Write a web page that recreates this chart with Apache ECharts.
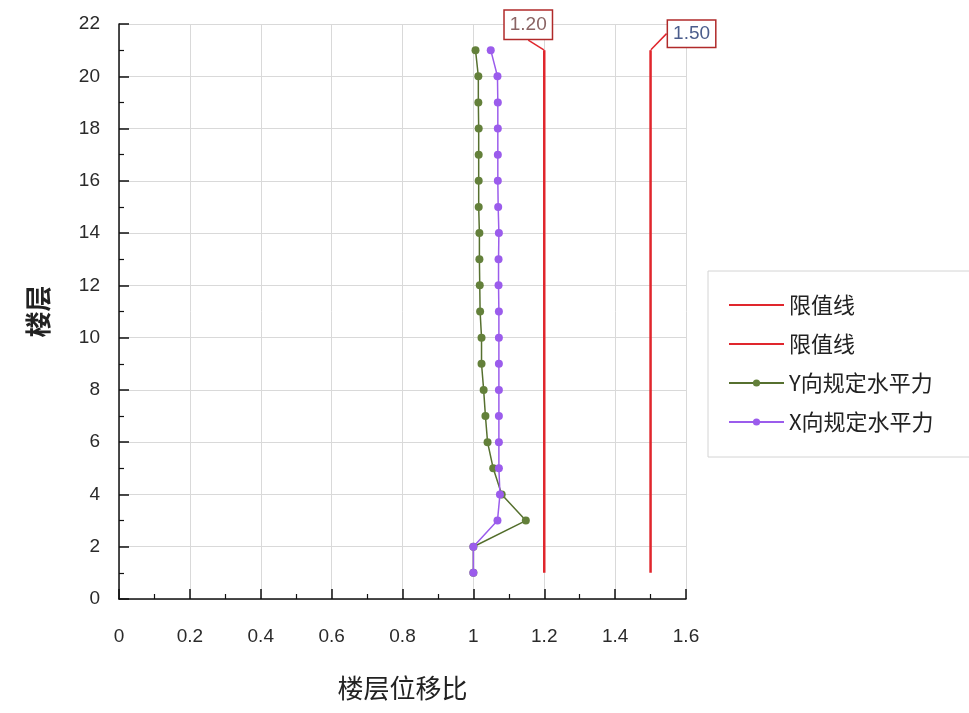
<!DOCTYPE html>
<html>
<head>
<meta charset="utf-8">
<script src="https://cdn.jsdelivr.net/npm/echarts@6/dist/echarts.min.js"></script>
<style>
html,body{margin:0;padding:0;background:#fff;}
#chart{width:969px;height:713px;}
</style>
</head>
<body>
<div id="chart"></div>
<script>
// ---- data ----
var floors = [1,2,3,4,5,6,7,8,9,10,11,12,13,14,15,16,17,18,19,20,21];
var yDirRatio = [1.00,1.00,1.148,1.080,1.056,1.040,1.034,1.029,1.023,1.023,1.019,1.018,1.017,1.017,1.015,1.015,1.015,1.015,1.014,1.014,1.006];
var xDirRatio = [1.00,1.00,1.068,1.075,1.072,1.072,1.072,1.072,1.072,1.072,1.072,1.071,1.071,1.072,1.070,1.069,1.069,1.069,1.069,1.068,1.049];
var limitFloors = [1, 21];
var limitA = 1.20;
var limitB = 1.50;
var seriesNames = ['限值线A', '限值线B', 'Y向规定水平力', 'X向规定水平力'];
var limitLabel = '限值线';
var xAxisName = '楼层位移比';
var yAxisName = '楼层';

function pairs(xs, ys){ return ys.map(function(y,i){ return [xs[i], y]; }); }
function limitData(v, labelOpt){
  return limitFloors.map(function(f, i){
    var d = {value:[v, f]};
    if (i === limitFloors.length - 1) {
      d.symbol = 'circle';
      d.symbolSize = 1;
      d.label = labelOpt;
    }
    return d;
  });
}

var numFont = 'Liberation Sans, Arial, sans-serif';
var cjkFont = 'Noto Sans CJK SC, sans-serif';

var chart = echarts.init(document.getElementById('chart'), null, {renderer:'canvas'});
chart.setOption({
  animation:false,
  backgroundColor:'#fff',
  grid:{left:119, right:283, top:24, bottom:114},
  legend:{
    orient:'vertical',
    left:708, top:271,
    padding:[23,40,24,20],
    itemGap:17,
    itemWidth:55, itemHeight:9,
    borderColor:'#d4d4d4', borderWidth:1,
    backgroundColor:'#fff',
    data:[
      {name:seriesNames[0], itemStyle:{opacity:0}},
      {name:seriesNames[1], itemStyle:{opacity:0}},
      {name:seriesNames[2]},
      {name:seriesNames[3]}
    ],
    formatter:function(n){ return n.indexOf(limitLabel) === 0 ? limitLabel : n; },
    textStyle:{fontSize:22, color:'#222', fontFamily:cjkFont}
  },
  xAxis:{
    type:'value', min:0, max:1.6, interval:0.2,
    name:xAxisName, nameLocation:'middle', nameGap:76,
    nameTextStyle:{fontSize:26, color:'#222', fontFamily:cjkFont},
    axisLine:{show:true, lineStyle:{color:'#111', width:1.5}},
    axisTick:{show:true, inside:true, length:10, lineStyle:{color:'#111', width:1.5}},
    minorTick:{show:true, splitNumber:2, length:5, lineStyle:{color:'#111', width:1.2}},
    splitLine:{show:true, lineStyle:{color:'#d9d9d9', width:1}},
    axisLabel:{fontSize:19, color:'#2a2a2a', margin:28, fontFamily:numFont,
      formatter:function(v){ return String(Math.round(v*10)/10); }}
  },
  yAxis:{
    type:'value', min:0, max:22, interval:2,
    name:yAxisName, nameLocation:'middle', nameGap:68, nameRotate:90,
    nameTextStyle:{fontSize:26, color:'#222', fontWeight:'bold', fontFamily:cjkFont},
    axisLine:{show:true, lineStyle:{color:'#111', width:1.5}},
    axisTick:{show:true, inside:true, length:10, lineStyle:{color:'#111', width:1.5}},
    minorTick:{show:true, splitNumber:2, length:5, lineStyle:{color:'#111', width:1.2}},
    splitLine:{show:true, lineStyle:{color:'#d9d9d9', width:1}},
    axisLabel:{fontSize:19, color:'#2a2a2a', margin:19, fontFamily:numFont}
  },
  series:[
    {
      name:seriesNames[0], type:'line', symbol:'none', showSymbol:true, z:2,
      color:'#e0262d',
      lineStyle:{color:'#e0262d', width:2.5},
      data:limitData(limitA, {
        show:true, position:'top', formatter:function(p){ return p.value[0].toFixed(2); },
        color:'#8a6464', fontSize:19, fontFamily:numFont,
        backgroundColor:'#fff', borderColor:'#b02a2a', borderWidth:1.5,
        padding:[5,5,4,5]
      }),
      labelLayout:{dx:-16, dy:-6},
      labelLine:{show:true, lineStyle:{color:'#e0262d', width:1.5}}
    },
    {
      name:seriesNames[1], type:'line', symbol:'none', showSymbol:true, z:2,
      color:'#e0262d',
      lineStyle:{color:'#e0262d', width:2.5},
      data:limitData(limitB, {
        show:true, position:'top', formatter:function(p){ return p.value[0].toFixed(2); },
        color:'#4b5d8c', fontSize:19, fontFamily:numFont,
        backgroundColor:'#fff', borderColor:'#b02a2a', borderWidth:1.5,
        padding:[4,5,3,5]
      }),
      labelLayout:{dx:41, dy:2},
      labelLine:{show:true, lineStyle:{color:'#e0262d', width:1.5}}
    },
    {
      name:seriesNames[2], type:'line', symbol:'circle', symbolSize:8, z:3,
      color:'#63803a',
      lineStyle:{color:'#56702f', width:1.5},
      itemStyle:{color:'#63803a'},
      data:pairs(yDirRatio, floors)
    },
    {
      name:seriesNames[3], type:'line', symbol:'circle', symbolSize:8, z:4,
      color:'#9b5cec',
      lineStyle:{color:'#9b5cec', width:1.5},
      itemStyle:{color:'#9b5cec'},
      data:pairs(xDirRatio, floors)
    }
  ]
});
</script>
</body>
</html>
